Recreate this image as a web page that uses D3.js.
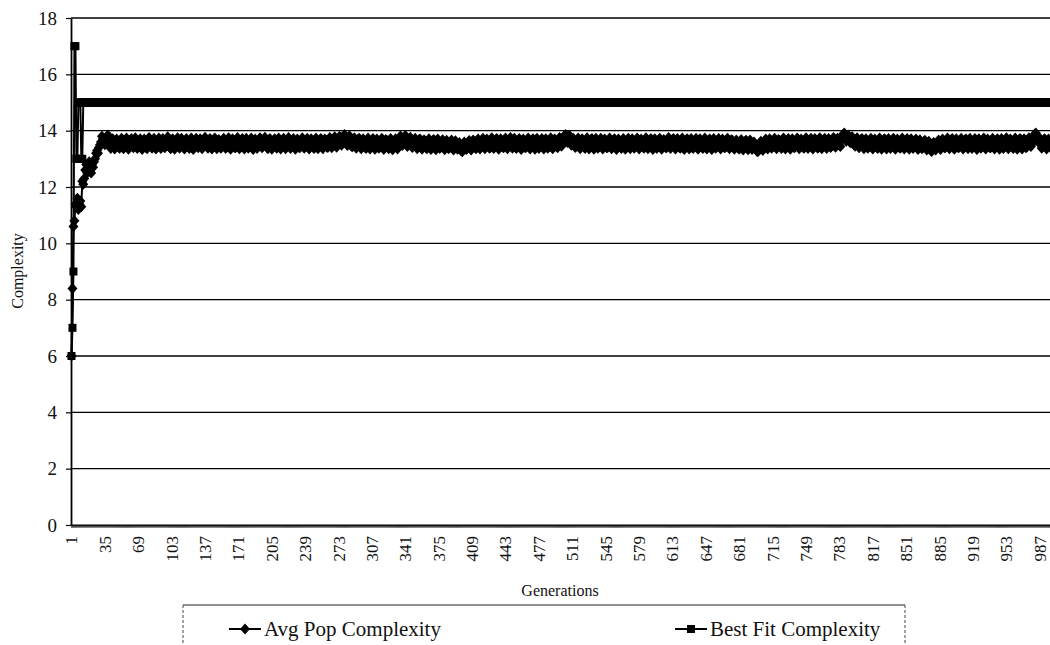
<!DOCTYPE html>
<html><head><meta charset="utf-8">
<script src="https://cdn.jsdelivr.net/npm/d3@7"></script>
<style>
body{margin:0;background:#fff}
svg{display:block}
text{font-family:"Liberation Serif","Times New Roman",serif;fill:#111}
</style>
</head><body>
<svg id="chart" width="1050" height="645"></svg>
<script>
// ---- data ----
const avgEarly = [6.0,8.4,10.6,10.8,11.4,11.3,11.6,11.2,11.4,11.5,11.3,12.2,12.1,12.3,12.6,12.8,12.5,12.7,12.9,12.6,12.5,12.8,12.7,12.9,13.0,13.2,13.3,13.2,13.4,13.5,13.6,13.8,13.7,13.6,13.5];
const avgRest = [
13.62,13.78,13.85,13.66,13.44,13.37,13.58,13.71,13.49,13.35,13.56,13.70,13.63,13.41,13.38,13.60,13.73,13.52,13.36,13.47,
13.69,13.74,13.51,13.34,13.45,13.66,13.72,13.48,13.39,13.57,13.75,13.60,13.37,13.43,13.64,13.71,13.50,13.33,13.55,13.70,
13.63,13.40,13.36,13.59,13.76,13.67,13.44,13.38,13.61,13.73,13.53,13.35,13.49,13.68,13.74,13.46,13.37,13.58,13.72,13.55,
13.39,13.47,13.70,13.78,13.62,13.41,13.36,13.57,13.71,13.51,13.34,13.52,13.69,13.75,13.48,13.38,13.60,13.73,13.58,13.40,
13.35,13.54,13.72,13.66,13.43,13.37,13.62,13.74,13.50,13.33,13.46,13.67,13.73,13.49,13.39,13.59,13.71,13.56,13.36,13.44,
13.65,13.77,13.61,13.42,13.38,13.58,13.72,13.53,13.35,13.48,13.70,13.74,13.47,13.36,13.55,13.69,13.60,13.38,13.41,13.63,
13.73,13.57,13.37,13.45,13.68,13.75,13.52,13.34,13.50,13.71,13.64,13.40,13.39,13.61,13.76,13.59,13.36,13.46,13.67,13.72,
13.49,13.35,13.56,13.73,13.62,13.38,13.43,13.66,13.74,13.51,13.33,13.53,13.70,13.58,13.37,13.47,13.69,13.75,13.54,13.39,
13.44,13.64,13.77,13.63,13.40,13.36,13.59,13.72,13.50,13.34,13.49,13.68,13.71,13.45,13.38,13.60,13.74,13.57,13.35,13.48,
13.67,13.73,13.52,13.36,13.44,13.65,13.76,13.58,13.37,13.42,13.63,13.72,13.49,13.34,13.54,13.70,13.61,13.39,13.41,13.62,
13.75,13.60,13.38,13.46,13.68,13.73,13.50,13.35,13.51,13.71,13.64,13.41,13.37,13.59,13.74,13.56,13.36,13.47,13.69,13.72,
13.53,13.36,13.52,13.70,13.66,13.42,13.40,13.63,13.76,13.60,13.39,13.45,13.68,13.78,13.62,13.41,13.50,13.72,13.80,13.64,
13.48,13.58,13.79,13.86,13.74,13.52,13.47,13.69,13.82,13.67,13.45,13.43,13.64,13.75,13.55,13.38,13.49,13.70,13.73,13.51,
13.36,13.53,13.71,13.63,13.40,13.37,13.60,13.74,13.56,13.35,13.46,13.67,13.72,13.48,13.34,13.55,13.70,13.61,13.38,13.43,
13.65,13.73,13.50,13.33,13.48,13.69,13.66,13.42,13.36,13.58,13.72,13.53,13.32,13.40,13.62,13.71,13.49,13.35,13.52,13.74,
13.81,13.68,13.47,13.55,13.76,13.83,13.64,13.44,13.50,13.71,13.77,13.57,13.40,13.46,13.67,13.73,13.51,13.36,13.48,13.69,
13.70,13.49,13.34,13.51,13.68,13.62,13.39,13.36,13.58,13.71,13.53,13.33,13.45,13.66,13.69,13.46,13.32,13.54,13.70,13.57,
13.37,13.41,13.63,13.68,13.47,13.32,13.50,13.66,13.59,13.36,13.39,13.61,13.67,13.44,13.31,13.49,13.64,13.55,13.34,13.38,
13.58,13.46,13.28,13.25,13.43,13.60,13.52,13.33,13.37,13.59,13.65,13.45,13.31,13.48,13.67,13.62,13.39,13.36,13.57,13.70,
13.55,13.35,13.44,13.66,13.73,13.51,13.36,13.53,13.70,13.63,13.40,13.38,13.60,13.75,13.57,13.37,13.47,13.68,13.72,13.49,
13.34,13.52,13.71,13.65,13.42,13.39,13.61,13.74,13.54,13.36,13.48,13.69,13.76,13.52,13.38,13.56,13.73,13.60,13.37,13.45,
13.67,13.72,13.48,13.33,13.51,13.70,13.62,13.39,13.41,13.64,13.74,13.53,13.35,13.47,13.68,13.71,13.46,13.34,13.57,13.73,
13.59,13.37,13.43,13.66,13.72,13.50,13.35,13.54,13.71,13.62,13.38,13.42,13.65,13.75,13.55,13.36,13.49,13.70,13.67,13.44,
13.39,13.61,13.76,13.63,13.45,13.53,13.74,13.82,13.86,13.70,13.58,13.80,13.84,13.66,13.48,13.55,13.73,13.61,13.40,13.46,
13.68,13.74,13.52,13.36,13.50,13.71,13.64,13.41,13.37,13.60,13.75,13.56,13.35,13.46,13.69,13.72,13.47,13.34,13.55,13.73,
13.62,13.38,13.42,13.65,13.73,13.51,13.35,13.53,13.70,13.61,13.39,13.40,13.63,13.74,13.54,13.36,13.48,13.68,13.71,13.45,
13.33,13.52,13.70,13.64,13.41,13.37,13.59,13.72,13.55,13.34,13.47,13.67,13.73,13.49,13.36,13.57,13.71,13.60,13.38,13.43,
13.66,13.74,13.51,13.35,13.49,13.70,13.65,13.42,13.38,13.61,13.75,13.57,13.36,13.45,13.68,13.72,13.48,13.33,13.54,13.71,
13.60,13.37,13.44,13.67,13.73,13.50,13.34,13.52,13.69,13.62,13.40,13.39,13.63,13.76,13.56,13.37,13.47,13.69,13.72,13.46,
13.35,13.55,13.72,13.63,13.40,13.38,13.60,13.74,13.53,13.33,13.48,13.68,13.71,13.47,13.35,13.56,13.72,13.59,13.37,13.44,
13.65,13.73,13.50,13.34,13.50,13.71,13.64,13.41,13.37,13.62,13.74,13.55,13.35,13.46,13.67,13.70,13.46,13.33,13.53,13.72,
13.61,13.38,13.43,13.66,13.72,13.49,13.35,13.54,13.70,13.60,13.39,13.41,13.64,13.73,13.52,13.36,13.47,13.68,13.66,13.43,
13.34,13.51,13.67,13.58,13.37,13.35,13.56,13.69,13.50,13.31,13.43,13.63,13.66,13.44,13.32,13.52,13.67,13.55,13.33,13.39,
13.60,13.52,13.33,13.27,13.25,13.38,13.55,13.62,13.42,13.30,13.46,13.65,13.70,13.48,13.35,13.54,13.71,13.60,13.38,13.42,
13.64,13.73,13.52,13.36,13.48,13.69,13.66,13.43,13.37,13.59,13.74,13.56,13.35,13.45,13.67,13.72,13.49,13.34,13.52,13.71,
13.63,13.39,13.42,13.65,13.74,13.53,13.36,13.51,13.70,13.62,13.40,13.38,13.61,13.75,13.57,13.37,13.46,13.68,13.73,13.48,
13.35,13.53,13.72,13.66,13.42,13.38,13.60,13.75,13.56,13.36,13.47,13.68,13.73,13.50,13.37,13.55,13.72,13.63,13.40,13.45,
13.67,13.76,13.55,13.41,13.52,13.73,13.70,13.48,13.44,13.66,13.81,13.88,13.92,13.79,13.62,13.70,13.85,13.76,13.57,13.61,
13.78,13.71,13.50,13.45,13.66,13.75,13.58,13.39,13.48,13.69,13.72,13.51,13.36,13.54,13.71,13.62,13.38,13.43,13.65,13.73,
13.52,13.35,13.49,13.70,13.64,13.41,13.37,13.60,13.74,13.55,13.34,13.46,13.68,13.71,13.47,13.35,13.56,13.72,13.59,13.37,
13.44,13.66,13.73,13.50,13.34,13.51,13.70,13.63,13.40,13.38,13.62,13.74,13.54,13.35,13.47,13.68,13.72,13.46,13.34,13.55,
13.71,13.60,13.37,13.43,13.66,13.70,13.48,13.33,13.52,13.68,13.59,13.36,13.39,13.61,13.66,13.44,13.31,13.49,13.62,13.47,
13.30,13.26,13.42,13.58,13.50,13.31,13.38,13.60,13.67,13.46,13.33,13.52,13.70,13.63,13.39,13.40,13.62,13.74,13.55,13.36,
13.47,13.69,13.72,13.49,13.34,13.54,13.71,13.62,13.39,13.41,13.64,13.73,13.52,13.35,13.48,13.69,13.70,13.45,13.36,13.58,
13.73,13.59,13.37,13.44,13.67,13.72,13.49,13.33,13.53,13.71,13.61,13.38,13.42,13.65,13.74,13.52,13.35,13.50,13.70,13.64,
13.40,13.39,13.62,13.73,13.54,13.35,13.47,13.68,13.71,13.46,13.34,13.56,13.72,13.60,13.37,13.43,13.66,13.75,13.53,13.36,
13.49,13.70,13.65,13.41,13.37,13.60,13.74,13.55,13.34,13.47,13.69,13.72,13.48,13.35,13.55,13.71,13.62,13.39,13.42,13.66,
13.75,13.58,13.44,13.53,13.72,13.80,13.88,13.92,13.77,13.61,13.66,13.74,13.57,13.38,13.46,13.68,13.71,13.49,13.35,13.52,
13.70,13.63,13.40,13.45,13.60];
// best fit: [value, number of consecutive generations]
const bestFitRuns = [[6,1],[7,1],[9,1],[17,2],[13,2],[15,3],[13,2],[15,988]];
const yTicks = [0,2,4,6,8,10,12,14,16,18];
const xLabelStep = 34;
const seriesNames = ["Avg Pop Complexity","Best Fit Complexity"];

// ---- build series ----
const avgPop = avgEarly.concat(avgRest);
const bestFit = bestFitRuns.flatMap(([v,n]) => Array.from({length:n}, () => v));
const nGen = Math.max(avgPop.length, bestFit.length);
const generations = d3.range(1, nGen + 1);

const svg = d3.select("#chart");
const plotLeft = 71, plotBottom = 525, plotTop = 18;
const x = d3.scaleBand().domain(generations).range([plotLeft, plotLeft + 0.982 * nGen]).padding(0);
const cx = g => x(g) + x.bandwidth() / 2;
const y = d3.scaleLinear().domain([0, 18]).range([plotBottom, plotTop]);

// gridlines
svg.append("g").selectAll("line").data(yTicks.filter(t => t > 0)).join("line")
  .attr("x1", plotLeft).attr("x2", 1050).attr("y1", d => y(d)).attr("y2", d => y(d))
  .attr("stroke", "#000").attr("stroke-width", 1.3);

// y axis
const yAxis = svg.append("g").attr("transform", `translate(${plotLeft},0)`)
  .call(d3.axisLeft(y).tickValues(yTicks).tickSize(5).tickPadding(9).tickSizeOuter(0));
yAxis.select(".domain").attr("stroke", "#000").attr("stroke-width", 1.8);
yAxis.selectAll(".tick line").attr("stroke", "#000").attr("stroke-width", 1.2);
yAxis.selectAll("text").style("font-family", '"Liberation Serif",serif').style("font-size", "19px").attr("fill", "#111");

// x axis dense ticks
const xAxisTicks = svg.append("g").attr("transform", `translate(0,${plotBottom})`)
  .call(d3.axisBottom(x).tickValues(generations).tickSize(3).tickFormat("").tickSizeOuter(0));
xAxisTicks.select(".domain").attr("stroke", "#000").attr("stroke-width", 2);
xAxisTicks.selectAll(".tick line").attr("stroke", "#222").attr("stroke-width", 0.6);

// x axis labels
const xAxis = svg.append("g").attr("transform", `translate(0,${plotBottom})`)
  .call(d3.axisBottom(x).tickValues(generations.filter((g, i) => i % xLabelStep === 0)).tickSize(0));
xAxis.select(".domain").remove();
xAxis.selectAll("text")
  .attr("transform", "rotate(-90)").attr("text-anchor", "end")
  .attr("x", -11).attr("y", 0).attr("dy", "0.35em")
  .style("font-family", '"Liberation Serif",serif').style("font-size", "17px").attr("fill", "#111");

// lines
const line = d3.line().x((d, i) => cx(generations[i])).y(d => y(d));
const diamond = "M0,-5.5L5,0L0,5.5L-5,0Z";
const sq = 8;

svg.append("path").datum(avgPop).attr("d", line)
  .attr("fill", "none").attr("stroke", "#000").attr("stroke-width", 2);
svg.append("g").selectAll("path").data(avgPop).join("path")
  .attr("d", diamond).attr("transform", (d, i) => `translate(${cx(generations[i])},${y(d)})`)
  .attr("fill", "#000");

svg.append("path").datum(bestFit).attr("d", line)
  .attr("fill", "none").attr("stroke", "#000").attr("stroke-width", 2);
svg.append("g").selectAll("rect").data(bestFit).join("rect")
  .attr("x", (d, i) => cx(generations[i]) - sq / 2).attr("y", d => y(d) - sq / 2)
  .attr("width", sq).attr("height", sq).attr("fill", "#000");

// axis titles
svg.append("text").attr("transform", "translate(17,271) rotate(-90)")
  .attr("text-anchor", "middle").attr("dy", "0.35em")
  .style("font-size", "16px").text("Complexity");
svg.append("text").attr("x", 560).attr("y", 596).attr("text-anchor", "middle")
  .style("font-size", "16px").text("Generations");

// legend
const lg = svg.append("g");
lg.append("line").attr("x1", 183).attr("x2", 905).attr("y1", 605).attr("y2", 605)
  .attr("stroke", "#222").attr("stroke-width", 1);
[183, 905].forEach(xx => lg.append("line").attr("x1", xx).attr("x2", xx).attr("y1", 605).attr("y2", 645)
  .attr("stroke", "#444").attr("stroke-width", 1).attr("stroke-dasharray", "3,2"));
const items = [{name: seriesNames[0], x0: 229, shape: "diamond"}, {name: seriesNames[1], x0: 675, shape: "square"}];
items.forEach(it => {
  const g = lg.append("g").attr("transform", `translate(${it.x0},629)`);
  g.append("line").attr("x1", 0).attr("x2", 32).attr("stroke", "#000").attr("stroke-width", 2);
  if (it.shape === "diamond") g.append("path").attr("d", diamond).attr("transform", "translate(16,0)").attr("fill", "#000");
  else g.append("rect").attr("x", 16 - sq / 2).attr("y", -sq / 2).attr("width", sq).attr("height", sq).attr("fill", "#000");
  g.append("text").attr("x", 35).attr("dy", "0.35em").style("font-size", "21px").text(it.name);
});
</script>
</body></html>
